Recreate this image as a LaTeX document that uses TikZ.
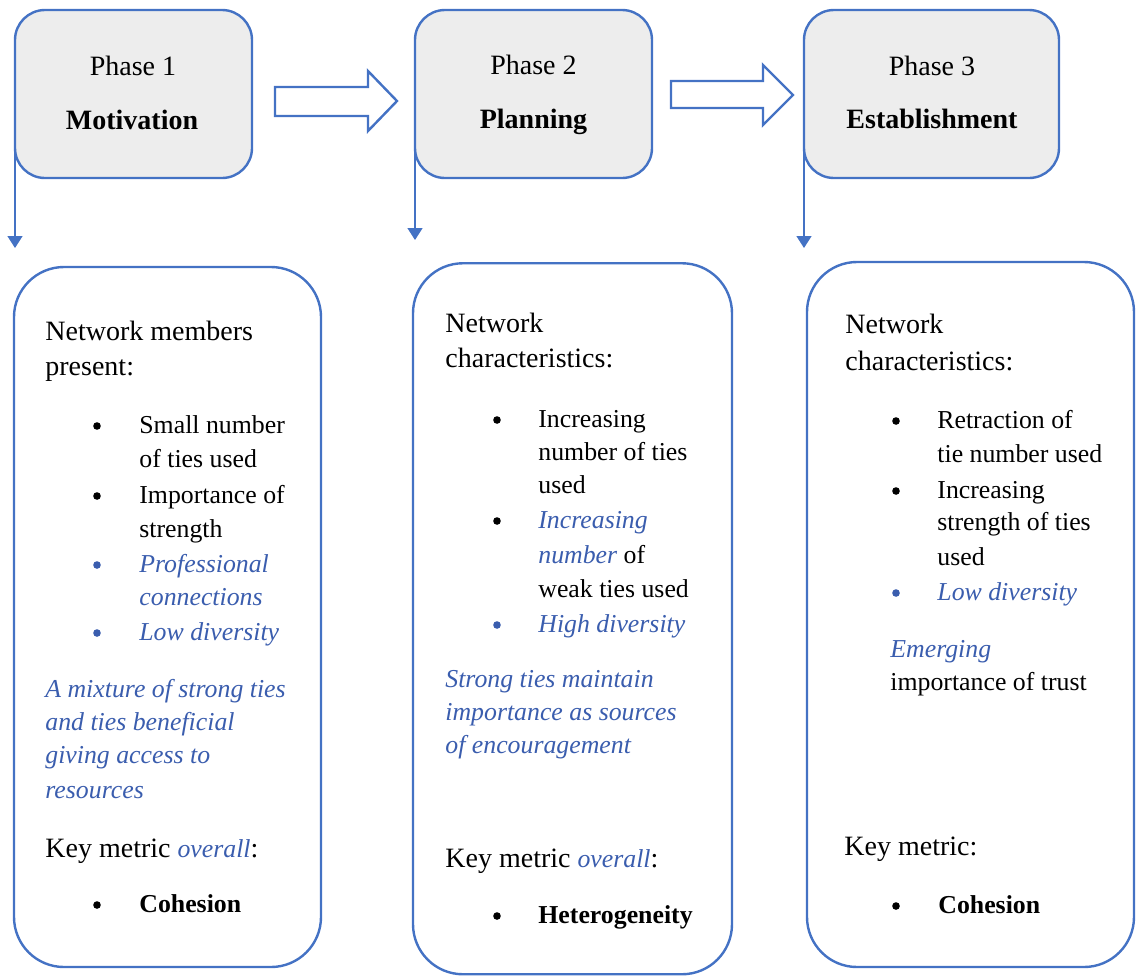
\documentclass[tikz,border=0pt]{standalone}
\usepackage{fontspec}
\setmainfont{Liberation Serif}
\usetikzlibrary{arrows.meta}
\definecolor{frame}{HTML}{4472C4}
\definecolor{note}{HTML}{3A5DAE}
\definecolor{phasefill}{HTML}{EDEDED}
% blue italic emphasis used throughout the lists
\newcommand\hl[1]{{\color{note}\fontsize{12.9}{16}\selectfont\itshape #1}}

\begin{document}
\begin{tikzpicture}[x=0.5pt,y=-0.5pt,
  phasebox/.style={draw=frame, line width=1.2pt, fill=phasefill,
    rounded corners=15pt, inner sep=0, outer sep=0},
  listbox/.style={draw=frame, line width=1.2pt, fill=white,
    rounded corners=25pt, inner sep=0, outer sep=0},
  link/.style={draw=frame, line width=0.75pt,
    -{Triangle[width=7.5pt,length=6pt]}},
  block/.style={draw=frame, line width=1.2pt, fill=white, line join=miter},
  head/.style={anchor=base west, inner sep=0, font=\fontsize{14}{17}\selectfont},
  txt/.style={anchor=base west, inner sep=0, font=\fontsize{12.9}{16}\selectfont},
  ctr/.style={anchor=base, inner sep=0, font=\fontsize{14}{17}\selectfont},
  ctrb/.style={ctr, font=\fontsize{14}{17}\selectfont\bfseries},
  dot/.style={circle, fill=black, inner sep=0, minimum size=3.8pt, yshift=3.5pt},
  bdot/.style={dot, fill=note},
  note/.style={txt, text=note, font=\fontsize{12.9}{16}\selectfont\itshape},
]
\useasboundingbox (0,0) rectangle (1136,976);

% downward links from each phase to its list
\coordinate (t1) at (15,248);
\coordinate (t2) at (415,240);
\coordinate (t3) at (804,248);

% phase boxes
\node[phasebox, minimum width=118.5pt, minimum height=84pt] (p1) at (133.5,94) {};
\node[phasebox, minimum width=118.5pt, minimum height=84pt] (p2) at (533.5,94) {};
\node[phasebox, minimum width=127.5pt, minimum height=84pt] (p3) at (931.5,94) {};

\draw[link] (p1.west) -- (t1);
\draw[link] (p2.west) -- (t2);
\draw[link] (p3.west) -- (t3);

\node[ctr]  (p1a) at (133,75)   {Phase 1};
\node[ctrb] (p1b) at (132,129)  {Motivation};
\node[ctr]  (p2a) at (533.5,74) {Phase 2};
\node[ctrb] (p2b) at (533.5,128) {Planning};
\node[ctr]  (p3a) at (932,75)   {Phase 3};
\node[ctrb] (p3b) at (932,128)  {Establishment};

% hollow block arrows between the phases
\draw[block] (275,87) -- (368,87) -- (368,71) -- (397,101) -- (368,131)
  -- (368,116) -- (275,116) -- cycle;
\draw[block] (671,81) -- (763,81) -- (763,65) -- (793,95) -- (763,125)
  -- (763,108) -- (671,108) -- cycle;

% list boxes
\node[listbox, minimum width=153.5pt, minimum height=350pt] (b1) at (167.5,617) {};
\node[listbox, minimum width=159.5pt, minimum height=355.5pt] (b2) at (572.5,618.75) {};
\node[listbox, minimum width=163.5pt, minimum height=352.5pt] (b3) at (970.5,614.5) {};

% --- Phase 1 list
\node[head] (a01) at (45,340) {Network members};
\node[head] (a02) at (45,375) {present:};
\node[dot]  (a03) at (97,433) {};
\node[txt]  (a04) at (139,433) {Small number};
\node[txt]  (a05) at (139,467) {of ties used};
\node[dot]  (a06) at (97,503) {};
\node[txt]  (a07) at (139,503) {Importance of};
\node[txt]  (a08) at (139,537) {strength};
\node[bdot] (a09) at (97,572) {};
\node[note] (a10) at (139,572) {Professional};
\node[note] (a11) at (139,605) {connections};
\node[bdot] (a12) at (97,640) {};
\node[note] (a13) at (139,640) {Low diversity};
\node[note] (a14) at (45,697) {A mixture of strong ties};
\node[note] (a15) at (45,730) {and ties beneficial};
\node[note] (a16) at (45,763) {giving access to};
\node[note] (a17) at (45,798) {resources};
\node[head] (a18) at (45,857) {Key metric \hl{overall}:};
\node[dot]  (a19) at (97,912) {};
\node[txt]  (a20) at (139,912) {\bfseries Cohesion};

% --- Phase 2 list
\node[head] (c01) at (445,332) {Network};
\node[head] (c02) at (445,367) {characteristics:};
\node[dot]  (c03) at (497,427) {};
\node[txt]  (c04) at (538,427) {Increasing};
\node[txt]  (c05) at (538,460) {number of ties};
\node[txt]  (c06) at (538,493) {used};
\node[dot]  (c07) at (497,528) {};
\node[txt]  (c08) at (538,528) {\hl{Increasing}};
\node[txt]  (c09) at (538,563) {\hl{number} of};
\node[txt]  (c10) at (538,597) {weak ties used};
\node[bdot] (c11) at (497,632) {};
\node[note] (c12) at (538,632) {High diversity};
\node[note] (c13) at (445,687) {Strong ties maintain};
\node[note] (c14) at (445,720) {importance as sources};
\node[note] (c15) at (445,753) {of encouragement};
\node[head] (c16) at (445,867) {Key metric \hl{overall}:};
\node[dot]  (c17) at (497,923) {};
\node[txt]  (c18) at (538,923) {\bfseries Heterogeneity};

% --- Phase 3 list
\node[head] (e01) at (845,333) {Network};
\node[head] (e02) at (845,370) {characteristics:};
\node[dot]  (e03) at (896,428) {};
\node[txt]  (e04) at (937,428) {Retraction of};
\node[txt]  (e05) at (937,462) {tie number used};
\node[dot]  (e06) at (896,498) {};
\node[txt]  (e07) at (937,498) {Increasing};
\node[txt]  (e08) at (937,530) {strength of ties};
\node[txt]  (e09) at (937,565) {used};
\node[bdot] (e10) at (896,600) {};
\node[note] (e11) at (937,600) {Low diversity};
\node[note] (e12) at (890,657) {Emerging};
\node[txt]  (e13) at (890,690) {importance of trust};
\node[head] (e14) at (844,855) {Key metric:};
\node[dot]  (e15) at (896,913) {};
\node[txt]  (e16) at (938,913) {\bfseries Cohesion};
\end{tikzpicture}
\end{document}
